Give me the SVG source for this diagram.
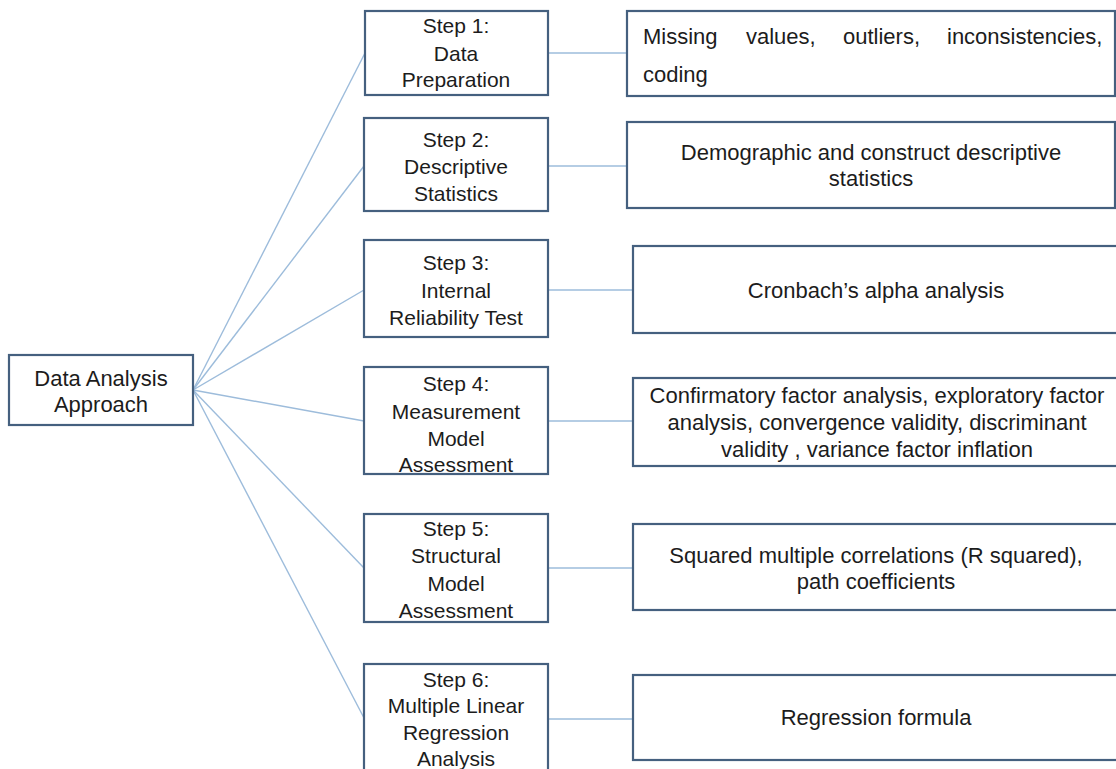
<svg xmlns="http://www.w3.org/2000/svg" width="1116" height="769" viewBox="0 0 1116 769">
  <style>
    .box { fill: #ffffff; stroke: #45607f; stroke-width: 2.2; }
    .link { fill: none; stroke: #9dbcdb; stroke-width: 1.4; }
    text { font-family: "Liberation Sans", Arial, sans-serif; font-size: 21px; fill: #1c1c1c; }
    .c { text-anchor: middle; }
    .big { font-size: 22px; }
  </style>
  <rect width="1116" height="769" fill="#ffffff"/>

  <!-- connectors -->
  <g id="connectors">
    <line class="link" x1="193" y1="390" x2="365" y2="53"/>
    <line class="link" x1="193" y1="390" x2="364" y2="166"/>
    <line class="link" x1="193" y1="390" x2="364" y2="290"/>
    <line class="link" x1="193" y1="390" x2="364" y2="421"/>
    <line class="link" x1="193" y1="390" x2="364" y2="568"/>
    <line class="link" x1="193" y1="390" x2="364" y2="718"/>
    <line class="link" x1="548" y1="53" x2="627" y2="53"/>
    <line class="link" x1="548" y1="166" x2="627" y2="166"/>
    <line class="link" x1="548" y1="290" x2="633" y2="290"/>
    <line class="link" x1="548" y1="421" x2="633" y2="421"/>
    <line class="link" x1="548" y1="568" x2="633" y2="568"/>
    <line class="link" x1="548" y1="719" x2="633" y2="719"/>
  </g>

  <!-- root -->
  <g id="root">
    <rect class="box" x="9" y="355" width="184" height="70"/>
    <text class="c big" x="101" y="386">Data Analysis</text>
    <text class="c big" x="101" y="412">Approach</text>
  </g>

  <!-- steps -->
  <g id="step1">
    <rect class="box" x="365" y="11" width="183" height="84"/>
    <text class="c" x="456" y="33">Step 1:</text>
    <text class="c" x="456" y="61">Data</text>
    <text class="c" x="456" y="87">Preparation</text>
  </g>
  <g id="step2">
    <rect class="box" x="364" y="118" width="184" height="93"/>
    <text class="c" x="456" y="147">Step 2:</text>
    <text class="c" x="456" y="174">Descriptive</text>
    <text class="c" x="456" y="201">Statistics</text>
  </g>
  <g id="step3">
    <rect class="box" x="364" y="240" width="184" height="97"/>
    <text class="c" x="456" y="270">Step 3:</text>
    <text class="c" x="456" y="298">Internal</text>
    <text class="c" x="456" y="325">Reliability  Test</text>
  </g>
  <g id="step4">
    <rect class="box" x="364" y="367" width="184" height="107"/>
    <text class="c" x="456" y="391">Step 4:</text>
    <text class="c" x="456" y="419">Measurement</text>
    <text class="c" x="456" y="446">Model</text>
    <text class="c" x="456" y="472">Assessment</text>
  </g>
  <g id="step5">
    <rect class="box" x="364" y="514" width="184" height="108"/>
    <text class="c" x="456" y="536">Step 5:</text>
    <text class="c" x="456" y="563">Structural</text>
    <text class="c" x="456" y="591">Model</text>
    <text class="c" x="456" y="618">Assessment</text>
  </g>
  <g id="step6">
    <rect class="box" x="364" y="664" width="184" height="120"/>
    <text class="c" x="456" y="687">Step 6:</text>
    <text class="c" x="456" y="713">Multiple Linear</text>
    <text class="c" x="456" y="740">Regression</text>
    <text class="c" x="456" y="766">Analysis</text>
  </g>

  <!-- details -->
  <g id="detail1">
    <rect class="box" x="627" y="11" width="488" height="85"/>
    <text class="big" x="643" y="44">Missing</text>
    <text class="big" x="746" y="44">values,</text>
    <text class="big" x="843" y="44">outliers,</text>
    <text class="big" x="947" y="44">inconsistencies,</text>
    <text class="big" x="643" y="82">coding</text>
  </g>
  <g id="detail2">
    <rect class="box" x="627" y="122" width="488" height="86"/>
    <text class="c big" x="871" y="160">Demographic and  construct descriptive</text>
    <text class="c big" x="871" y="186">statistics</text>
  </g>
  <g id="detail3">
    <rect class="box" x="633" y="246" width="490" height="87"/>
    <text class="c big" x="876" y="298">Cronbach’s alpha analysis</text>
  </g>
  <g id="detail4">
    <rect class="box" x="633" y="378" width="490" height="88"/>
    <text class="c big" x="877" y="403">Confirmatory factor analysis, exploratory factor</text>
    <text class="c big" x="877" y="430">analysis, convergence validity, discriminant</text>
    <text class="c big" x="877" y="457">validity , variance factor inflation</text>
  </g>
  <g id="detail5">
    <rect class="box" x="633" y="524" width="490" height="86"/>
    <text class="c big" x="876" y="563">Squared multiple correlations (R squared),</text>
    <text class="c big" x="876" y="589">path coefficients</text>
  </g>
  <g id="detail6">
    <rect class="box" x="633" y="675" width="490" height="85"/>
    <text class="c big" x="876" y="725">Regression formula</text>
  </g>
</svg>
